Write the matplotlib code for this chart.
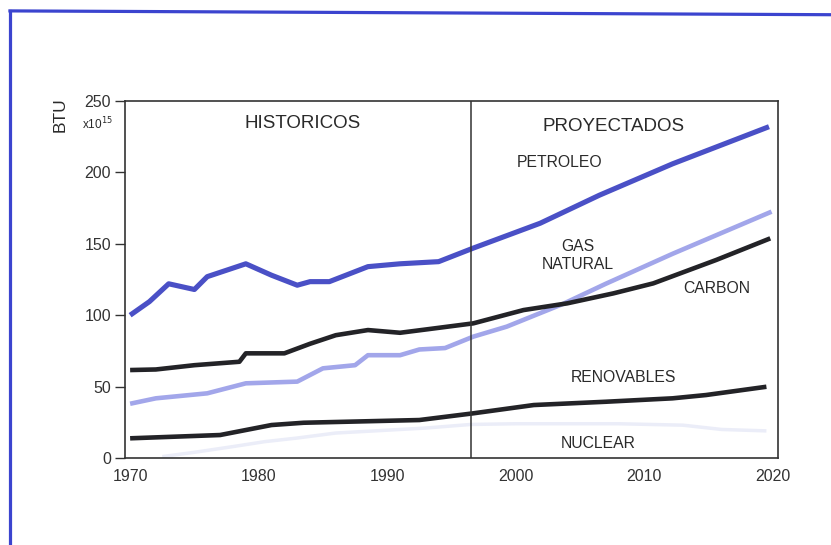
import matplotlib
matplotlib.use("Agg")
import matplotlib.pyplot as plt
from matplotlib.lines import Line2D

plt.rcParams['font.family'] = ['Liberation Sans', 'DejaVu Sans']

# values (BTU x10^15)
petroleo_years = [1970, 1971.5, 1973, 1975, 1976, 1979, 1981, 1983, 1984, 1985.5, 1988.5, 1991, 1994,
                  1996.7, 2001.9, 2006.5, 2012.2, 2019.7]
petroleo = [100, 109.5, 122, 118, 127, 136, 128, 121, 123.5, 123.5, 134, 136, 137.5,
            147, 164.4, 184, 206, 232]

gas_years = [1970, 1972, 1976, 1979, 1983, 1985, 1987.5, 1988.5, 1991, 1992.5, 1994.5,
             1996.7, 1999.3, 2003.7, 2007, 2012.2, 2019.9]
gas = [38, 41.8, 45.3, 52.3, 53.5, 62.8, 65, 72, 72, 76, 77,
       85, 92, 108, 122, 143, 172.5]

carbon_years = [1970, 1972, 1975, 1978.5, 1979, 1982, 1984, 1986, 1988.5, 1991, 1993,
                1996.7, 2000.6, 2004, 2007.6, 2010.7, 2015.6, 2019.8]
carbon = [61.6, 62, 65, 67.4, 73.3, 73.3, 80, 86, 89.6, 87.7, 90,
          94.3, 103.6, 108.3, 115.3, 122.3, 138.7, 153.8]

renov_years = [1970, 1977, 1979, 1981, 1983.5, 1992.5, 1996.7, 2001.4, 2007, 2012.2, 2014.8, 2019.5]
renov = [13.8, 16.1, 19.6, 23.1, 24.7, 26.6, 31.3, 37.1, 39.4, 41.8, 44.1, 49.9]

nuclear_years = [1972.5, 1975, 1978, 1980.5, 1983, 1986, 1990, 1993, 1996.5, 2000, 2008, 2013, 2016, 2019.5]
nuclear = [1, 4, 8, 11.5, 14, 17.5, 19.5, 21, 23.5, 24, 24, 23, 20, 19]

labels = ["PETROLEO", "GAS\nNATURAL", "CARBON", "RENOVABLES", "NUCLEAR"]
label_pos = [(2003.4, 206.6), (2004.8, 141.7), (2015.6, 119), (2008.4, 56.7), (2006.4, 10.5)]

fig = plt.figure(figsize=(8.31, 5.45), dpi=100)
ax = fig.add_axes([0.1504, 0.1596, 0.7858, 0.6551])

style = dict(solid_capstyle="butt", solid_joinstyle="round")
ax.plot(nuclear_years, nuclear, color="#ebedf8", lw=2.5, **style)
ax.plot(renov_years, renov, color="#232327", lw=3.3, **style)
ax.plot(gas_years, gas, color="#a2a6ea", lw=3.3, **style)
ax.plot(carbon_years, carbon, color="#232327", lw=3.3, **style)
ax.plot(petroleo_years, petroleo, color="#4a50c6", lw=3.7, **style)

ax.axvline(1996.5, color="#333333", lw=1.1)

ax.set_xlim(1969.6, 2020.4)
ax.set_ylim(0, 250)
ax.set_xticks([1970, 1980, 1990, 2000, 2010, 2020])
ax.set_yticks([0, 50, 100, 150, 200, 250])
ax.tick_params(axis="x", length=0, pad=8, labelsize=11.5, colors="#333333")
ax.tick_params(axis="y", length=7, width=1, pad=3, labelsize=11.5, colors="#333333")
for s in ax.spines.values():
    s.set_color("#333333")
    s.set_linewidth(1.2)

ax.text(1983.45, 234, "HISTORICOS", ha="center", va="center", fontsize=13.5, color="#2a2a2a")
ax.text(2007.6, 232, "PROYECTADOS", ha="center", va="center", fontsize=13.5, color="#2a2a2a")
for txt, (x, y) in zip(labels, label_pos):
    ax.text(x, y, txt, ha="center", va="center", fontsize=11.3, color="#2a2a2a",
            linespacing=1.2)

fig.text(0.072, 0.79, "BTU", rotation=90, ha="center", va="center", fontsize=12.5, color="#2a2a2a")
fig.text(0.117, 0.772, r"x10$^{15}$", ha="center", va="center", fontsize=8.5, color="#2a2a2a")

# blue frame of the scanned page
fig.add_artist(Line2D([0.012, 1.0], [0.98, 0.973], color="#3b44cf", lw=2.3))
fig.add_artist(Line2D([0.012, 0.012], [0.98, 0.0], color="#3b44cf", lw=2.3))

fig.savefig("out.png", dpi=100)
